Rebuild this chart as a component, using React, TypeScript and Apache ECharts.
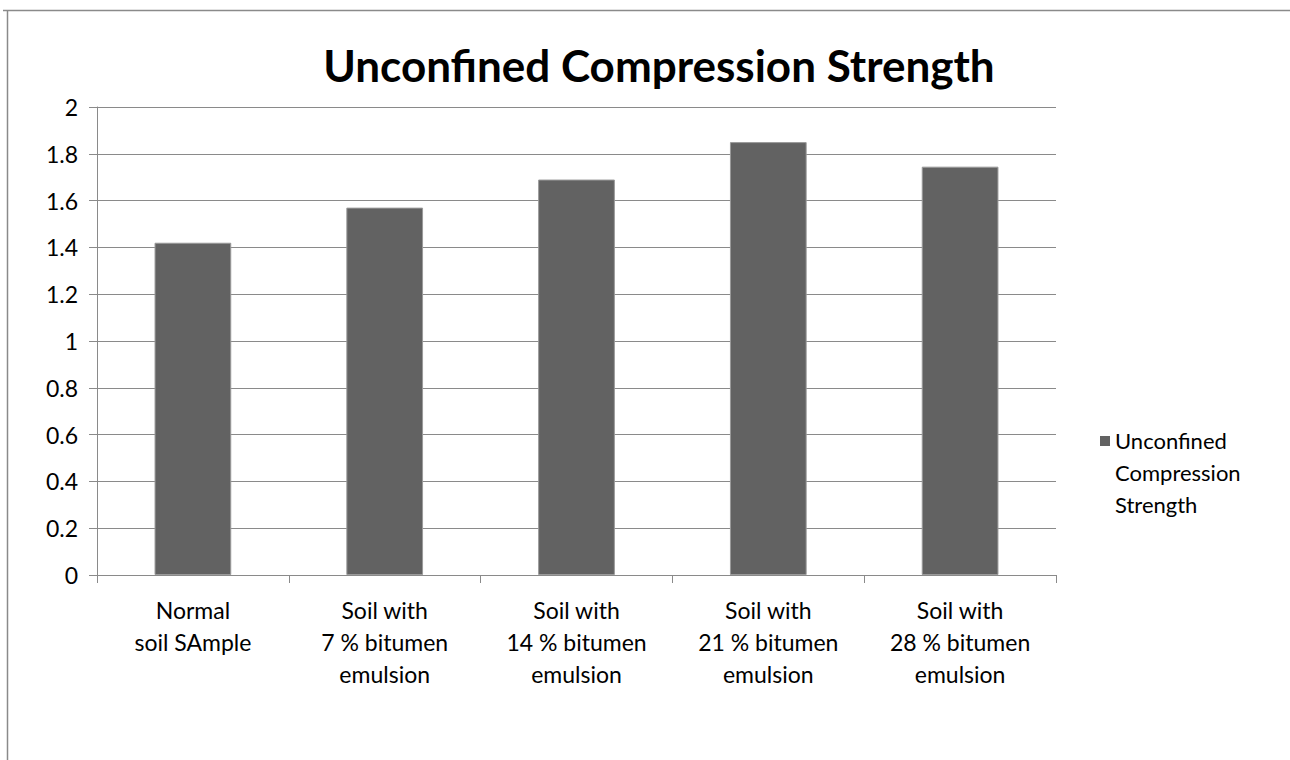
import React, { useEffect, useRef } from "react";
import * as echarts from "echarts";

const categories = [
  "Normal\nsoil SAmple",
  "Soil with\n7 % bitumen\nemulsion",
  "Soil with\n14 % bitumen\nemulsion",
  "Soil with\n21 % bitumen\nemulsion",
  "Soil with\n28 % bitumen\nemulsion",
];
const seriesName = "Unconfined Compression Strength";
const legendLabel = "Unconfined\nCompression\nStrength";
const values = [1.42, 1.57, 1.69, 1.85, 1.745];
const yTicks = { min: 0, max: 2, interval: 0.2 };

const FONT = "Lato, 'Open Sans', sans-serif";
const GRAY = "#8a8a8a";

export default function App() {
  const ref = useRef<HTMLDivElement>(null);
  useEffect(() => {
    if (!ref.current) return;
    const chart = echarts.init(ref.current, undefined, { renderer: "svg" });
    chart.setOption({
      animation: false,
      backgroundColor: "#ffffff",
      title: {
        text: seriesName,
        left: 654,
        top: 38,
        textAlign: "center",
        textStyle: { fontFamily: FONT, fontSize: 44, fontWeight: "bold", color: "#000" },
      },
      legend: {
        left: 1100,
        top: 424,
        padding: 0,
        orient: "vertical",
        itemWidth: 10,
        itemHeight: 72,
        itemGap: 0,
        icon: "path://M0,0H10V10H0Z M0,72L10,72",
        itemStyle: { borderWidth: 0 },
        formatter: () => legendLabel,
        textStyle: { fontFamily: FONT, fontSize: 22, lineHeight: 32, color: "#000" },
        data: [seriesName],
      },
      grid: { left: 97, top: 107, right: 234, bottom: 185, containLabel: false },
      xAxis: {
        type: "category",
        data: categories,
        axisLine: { lineStyle: { color: GRAY, width: 1 } },
        axisTick: { show: true, length: 8, lineStyle: { color: GRAY } },
        axisLabel: {
          fontFamily: FONT,
          fontSize: 23,
          lineHeight: 32,
          color: "#000",
          margin: 19,
          interval: 0,
        },
      },
      yAxis: {
        type: "value",
        min: yTicks.min,
        max: yTicks.max,
        interval: yTicks.interval,
        axisLine: { show: true, lineStyle: { color: GRAY, width: 1 } },
        axisTick: { show: true, length: 8, lineStyle: { color: GRAY } },
        splitLine: { show: true, lineStyle: { color: GRAY, width: 1 } },
        axisLabel: {
          fontFamily: FONT,
          fontSize: 23,
          color: "#000",
          margin: 19,
          formatter: (v: number) => String(Math.round(v * 10) / 10),
        },
      },
      series: [
        {
          name: seriesName,
          type: "bar",
          data: values,
          barWidth: "40%",
          itemStyle: { color: "#626262", borderColor: "#9a9a9a", borderWidth: 1 },
        },
      ],
      graphic: [
        { type: "line", shape: { x1: 3, y1: 10.5, x2: 1290, y2: 10.5 }, style: { stroke: GRAY, lineWidth: 1.5 } },
        { type: "line", shape: { x1: 7.5, y1: 10, x2: 7.5, y2: 760 }, style: { stroke: GRAY, lineWidth: 1.5 } },
      ],
    });
    return () => chart.dispose();
  }, []);
  return (
    <div
      ref={ref}
      style={{ position: "fixed", left: 0, top: 0, width: 1290, height: 760 }}
    />
  );
}
